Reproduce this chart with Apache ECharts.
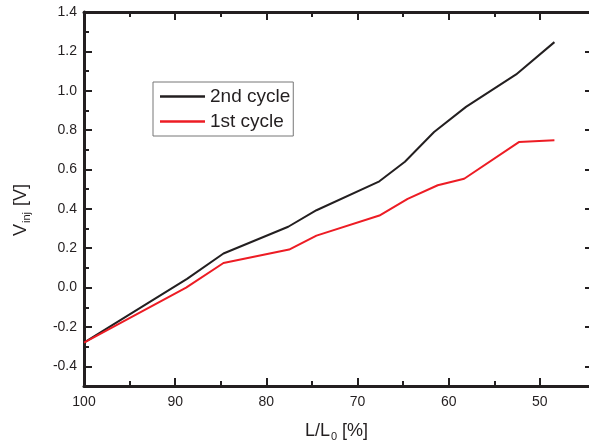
<!DOCTYPE html>
<html>
<head>
<meta charset="utf-8">
<script src="https://cdn.jsdelivr.net/npm/echarts@6/dist/echarts.min.js"></script>
<style>html,body{margin:0;padding:0;background:#fff;overflow:hidden;}#c{width:589px;height:448px;}</style>
</head>
<body>
<div id="c"></div>
<script>
const xMajor = [100, 90, 80, 70, 60, 50];
const xMinor = [95, 85, 75, 65, 55];
const yMajor = [-0.4, -0.2, 0, 0.2, 0.4, 0.6, 0.8, 1.0, 1.2, 1.4];
const yMinor = [-0.5, -0.3, -0.1, 0.1, 0.3, 0.5, 0.7, 0.9, 1.1, 1.3];

const names = ['2nd cycle', '1st cycle'];
const x2nd = [100, 88.7, 84.7, 77.6, 74.5, 67.6, 64.8, 61.6, 58.1, 52.6, 48.4];
const y2nd = [-0.28, 0.044, 0.173, 0.309, 0.393, 0.54, 0.639, 0.79, 0.918, 1.083, 1.247];
const x1st = [100, 88.8, 84.7, 77.5, 74.5, 67.6, 64.5, 61.2, 58.3, 52.3, 48.4];
const y1st = [-0.28, 0.0, 0.125, 0.193, 0.264, 0.366, 0.451, 0.52, 0.553, 0.739, 0.749];

const ink = '#231f20';
const red = '#ed1c24';
const FONT = '"Liberation Sans", Arial, sans-serif';
const lineW = 3;

function xAx(pos, labels, ticks, len, line) {
  return {
    type: 'value', position: pos, min: 40, max: 100, inverse: true,
    axisLine: { show: line, onZero: false, lineStyle: { color: ink, width: lineW } },
    axisTick: { show: true, inside: true, length: len, customValues: ticks, lineStyle: { color: ink, width: 2 } },
    axisLabel: labels ? { show: true, customValues: xMajor, color: ink, fontSize: 14, fontFamily: FONT, margin: 9 } : { show: false },
    splitLine: { show: false }
  };
}
function yAx(pos, labels, ticks, len, offset, line) {
  return {
    type: 'value', position: pos, min: -0.5, max: 1.4, offset: offset,
    axisLine: { show: line, onZero: false, lineStyle: { color: ink, width: lineW } },
    axisTick: { show: true, inside: true, length: len, customValues: ticks, lineStyle: { color: ink, width: 2 } },
    axisLabel: labels ? { show: true, customValues: yMajor, color: ink, fontSize: 14, fontFamily: FONT, margin: 7,
      formatter: v => v.toFixed(1) } : { show: false },
    splitLine: { show: false }
  };
}

const xBottom = xAx('bottom', true, xMajor, 8, true);
xBottom.name = '{m|L/L}{s|0}{m| [%]}';
xBottom.nameLocation = 'middle';
xBottom.nameGap = 36;
xBottom.nameTextStyle = { padding: [0, 42, 0, 0], rich: {
  m: { fontSize: 18, fontFamily: FONT, color: ink, lineHeight: 20, verticalAlign: 'top' },
  s: { fontSize: 11, fontFamily: FONT, color: ink, lineHeight: 11, padding: [13, 0, 0, 1], verticalAlign: 'bottom' }
}};
const xBottomMinor = xAx('bottom', false, xMinor, 5, false);
const xTop = xAx('top', false, xMajor, 8, true);
const xTopMinor = xAx('top', false, xMinor, 5, false);

const yLeft = yAx('left', true, yMajor, 8, 0, true);
yLeft.name = '{m|V}{s|inj}{m| [V]}';
yLeft.nameLocation = 'middle';
yLeft.nameRotate = 90;
yLeft.nameGap = 52;
yLeft.nameTextStyle = { padding: [0, 22, 0, 0], rich: {
  m: { fontSize: 18, fontFamily: FONT, color: ink, lineHeight: 20, verticalAlign: 'top' },
  s: { fontSize: 11, fontFamily: FONT, color: ink, lineHeight: 11, padding: [13, 1, 0, 1], verticalAlign: 'bottom' }
}};
const yLeftMinor = yAx('left', false, yMinor, 5, 0, false);
const yRight = yAx('right', false, yMajor, 8, -38, true);

const chart = echarts.init(document.getElementById('c'), null, { renderer: 'canvas' });
chart.setOption({
  backgroundColor: '#fff',
  animation: false,
  grid: { left: 84, top: 12, width: 547, height: 374, containLabel: false, outerBoundsMode: 'none' },
  xAxis: [xBottom, xBottomMinor, xTop, xTopMinor],
  yAxis: [yLeft, yLeftMinor, yRight],
  legend: {
    data: names, orient: 'vertical', left: 153, top: 82,
    icon: 'rect', itemWidth: 45, itemHeight: 2.5, itemGap: 6,
    padding: [5, 3, 5, 7],
    borderColor: '#777', borderWidth: 1, backgroundColor: '#fff',
    textStyle: { fontSize: 19, fontFamily: FONT, color: ink, lineHeight: 17 }
  },
  series: [
    { name: names[0], type: 'line', xAxisIndex: 0, yAxisIndex: 0, showSymbol: false, symbol: 'none',
      lineStyle: { color: ink, width: 2 }, itemStyle: { color: ink },
      data: x2nd.map((x, i) => [x, y2nd[i]]) },
    { name: names[1], type: 'line', xAxisIndex: 0, yAxisIndex: 0, showSymbol: false, symbol: 'none',
      lineStyle: { color: red, width: 2 }, itemStyle: { color: red },
      data: x1st.map((x, i) => [x, y1st[i]]) }
  ]
});
</script>
</body>
</html>
